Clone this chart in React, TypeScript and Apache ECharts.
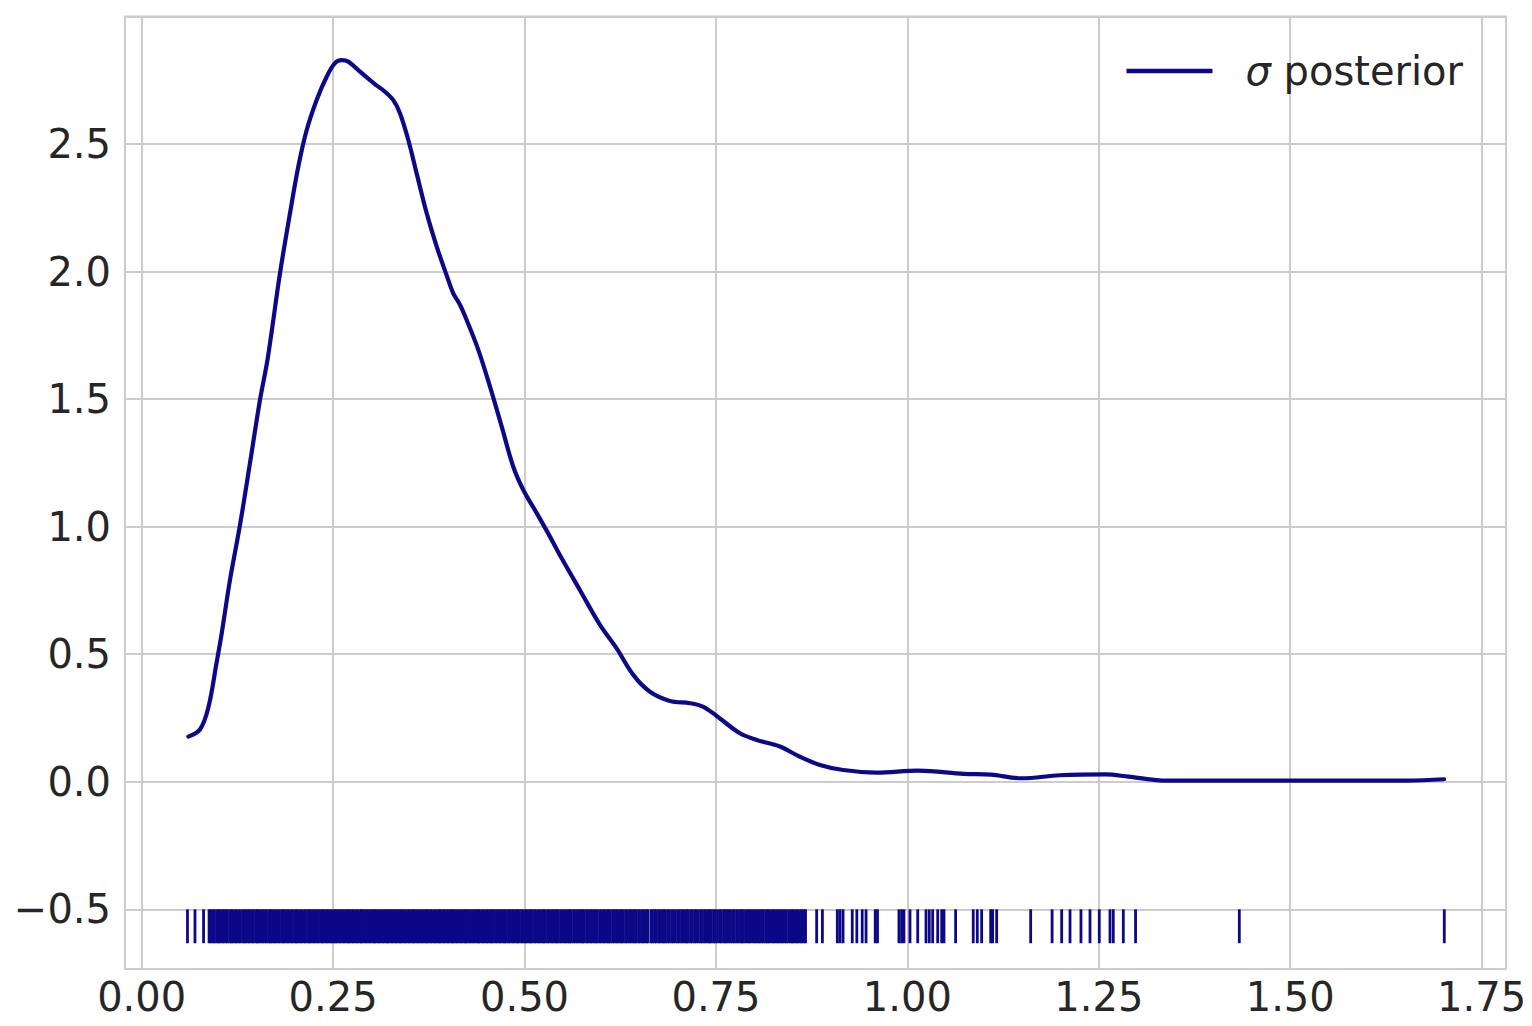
import React, { useEffect, useRef } from 'react';
import * as echarts from 'echarts';

const SERIES_NAME = 'σ posterior';

const KDE_X = [
  0.0609, 0.0761, 0.087, 0.098, 0.1045, 0.1153, 0.1284, 0.1414, 0.1545, 0.1646,
  0.1806, 0.1937, 0.2045, 0.2155, 0.2285, 0.2416, 0.2524, 0.2612, 0.2698, 0.2851,
  0.3025, 0.3177, 0.3286, 0.3373, 0.3482, 0.3591, 0.3722, 0.3853, 0.3983, 0.4069,
  0.4157, 0.4244, 0.4396, 0.4549, 0.4702, 0.4853, 0.4984, 0.5159, 0.5332, 0.5485,
  0.5726, 0.5985, 0.6203, 0.642, 0.6638, 0.6899, 0.7161, 0.7334, 0.7509, 0.7813,
  0.8032, 0.8336, 0.8597, 0.8858, 0.9163, 0.9599, 1.0142, 1.074, 1.109, 1.149,
  1.199, 1.259, 1.289, 1.339, 1.464, 1.654, 1.701,
];
const KDE_Y = [
  0.177, 0.205, 0.29, 0.47, 0.582, 0.791, 1.007, 1.249, 1.497, 1.66,
  1.993, 2.229, 2.411, 2.555, 2.673, 2.764, 2.817, 2.829, 2.823, 2.784,
  2.74, 2.705, 2.672, 2.621, 2.516, 2.385, 2.229, 2.098, 1.985, 1.915,
  1.87, 1.81, 1.693, 1.549, 1.392, 1.235, 1.144, 1.053, 0.961, 0.876,
  0.75, 0.615, 0.523, 0.419, 0.353, 0.317, 0.308, 0.294, 0.258, 0.19,
  0.164, 0.138, 0.098, 0.066, 0.046, 0.036, 0.0435, 0.031, 0.028, 0.0137,
  0.0255, 0.029, 0.02, 0.0043, 0.0043, 0.0043, 0.0098,
];

const RUG = [
  0.0598, 0.0696, 0.0808,
  0.088, 0.090, 0.093, 0.095, 0.098, 0.100, 0.102, 0.105, 0.107, 0.110,
  0.112, 0.115, 0.117, 0.119, 0.122, 0.124, 0.127, 0.129, 0.132, 0.134,
  0.136, 0.139, 0.141, 0.144, 0.146, 0.149, 0.151, 0.153, 0.156, 0.158,
  0.161, 0.163, 0.166, 0.168, 0.170, 0.173, 0.175, 0.178, 0.180, 0.183,
  0.185, 0.187, 0.190, 0.192, 0.195, 0.197, 0.200, 0.202, 0.204, 0.207,
  0.209, 0.212, 0.214, 0.217, 0.219, 0.221, 0.224, 0.226, 0.229, 0.231,
  0.234, 0.236, 0.238, 0.241, 0.243, 0.246, 0.248, 0.251, 0.253, 0.255,
  0.258, 0.260, 0.263, 0.265, 0.268, 0.270, 0.272, 0.275, 0.277, 0.280,
  0.282, 0.285, 0.287, 0.289, 0.292, 0.294, 0.297, 0.299, 0.302, 0.304,
  0.306, 0.309, 0.311, 0.314, 0.316, 0.319, 0.321, 0.323, 0.326, 0.328,
  0.331, 0.333, 0.336, 0.338, 0.340, 0.343, 0.345, 0.348, 0.350, 0.353,
  0.355, 0.357, 0.360, 0.362, 0.365, 0.367, 0.370, 0.372, 0.374, 0.377,
  0.379, 0.382, 0.384, 0.387, 0.389, 0.391, 0.394, 0.396, 0.399, 0.401,
  0.404, 0.406, 0.408, 0.411, 0.413, 0.416, 0.418, 0.421, 0.423, 0.425,
  0.428, 0.430, 0.433, 0.435, 0.438, 0.440, 0.442, 0.445, 0.447, 0.450,
  0.452, 0.455, 0.457, 0.459, 0.462, 0.464, 0.467, 0.469, 0.472, 0.474,
  0.476, 0.479, 0.481, 0.484, 0.486, 0.489, 0.491, 0.493, 0.496, 0.498,
  0.501, 0.503, 0.506, 0.508, 0.510, 0.513, 0.515, 0.518, 0.520, 0.523,
  0.525, 0.527, 0.530, 0.532, 0.535, 0.537, 0.540, 0.542, 0.544, 0.547,
  0.549, 0.552, 0.554, 0.557, 0.559, 0.561, 0.564, 0.566, 0.569, 0.571,
  0.574, 0.576, 0.578, 0.581, 0.583, 0.586, 0.588, 0.591, 0.593, 0.595,
  0.598, 0.600, 0.603, 0.605, 0.608, 0.610, 0.612, 0.615, 0.617, 0.620,
  0.622, 0.625, 0.627, 0.629, 0.632, 0.634, 0.637, 0.639, 0.642, 0.644,
  0.646, 0.649, 0.651, 0.654, 0.656, 0.659, 0.661,
  0.665, 0.667, 0.670, 0.672, 0.675, 0.677, 0.680, 0.682, 0.684, 0.687,
  0.689, 0.692, 0.694, 0.697, 0.700, 0.702, 0.705, 0.707, 0.710, 0.712,
  0.714, 0.717, 0.719, 0.722, 0.724, 0.727, 0.730, 0.732, 0.735, 0.737,
  0.740, 0.742, 0.744, 0.747, 0.749, 0.752, 0.755, 0.757, 0.760, 0.762,
  0.764, 0.767, 0.769, 0.772, 0.774, 0.777, 0.779, 0.782, 0.784, 0.786,
  0.789, 0.792, 0.794, 0.797, 0.800, 0.802, 0.805, 0.807, 0.810, 0.812,
  0.815, 0.817, 0.819, 0.822, 0.825, 0.827, 0.830, 0.832, 0.835, 0.837,
  0.840, 0.842, 0.845, 0.848, 0.850, 0.852, 0.855, 0.857, 0.860, 0.862,
  0.865, 0.867,
  0.8815, 0.889, 0.9085, 0.912, 0.916, 0.928, 0.934, 0.941, 0.946, 0.958,
  0.961, 0.989, 0.9925, 0.9955, 1.0034, 1.0135, 1.0243, 1.0286, 1.033, 1.0396,
  1.0448, 1.0478, 1.063, 1.086, 1.0913, 1.097, 1.1088, 1.1114, 1.1166, 1.161,
  1.189, 1.2015, 1.2124, 1.2267, 1.2385, 1.2506, 1.2646, 1.2689, 1.282, 1.298,
  1.4335, 1.7012,
];

const X_TICKS = [0, 0.25, 0.5, 0.75, 1.0, 1.25, 1.5, 1.75];
const Y_TICKS = [-0.5, 0, 0.5, 1.0, 1.5, 2.0, 2.5];

const RUG_TOP = -0.5;
const RUG_BOTTOM = -0.633;

const LINE_COLOR = '#0d0887';
const TEXT_COLOR = '#262626';
const GRID_COLOR = '#cccccc';
const FONT = 'DejaVu Sans';

const isTick = (v: number, ticks: number[]) => ticks.some((t) => Math.abs(t - v) < 1e-6);
const fmtNum = (v: number, d: number) => (v < -1e-9 ? '\u2212' + Math.abs(v).toFixed(d) : Math.abs(v).toFixed(d));

export default function App() {
  const ref = useRef<HTMLDivElement>(null);
  useEffect(() => {
    if (!ref.current) return;
    const chart = echarts.init(ref.current, null, { renderer: 'svg' });
    chart.setOption({
      animation: false,
      backgroundColor: '#ffffff',
      grid: {
        left: 125,
        right: 26,
        top: 16.5,
        bottom: 57,
        show: true,
        borderColor: GRID_COLOR,
        borderWidth: 2,
        backgroundColor: 'transparent',
      },
      legend: {
        data: [SERIES_NAME],
        right: 69,
        top: 51,
        padding: 0,
        icon: 'rect',
        itemWidth: 86,
        itemHeight: 4.5,
        itemStyle: { color: LINE_COLOR },
        formatter: () => '{g|}{s|σ} posterior',
        textStyle: {
          fontSize: 40,
          color: TEXT_COLOR,
          fontFamily: FONT,
          rich: {
            g: { width: 28 },
            s: { fontStyle: 'italic', fontSize: 40, color: TEXT_COLOR, fontFamily: FONT },
          },
        },
      },
      xAxis: {
        type: 'value',
        min: -0.0218,
        max: 1.7818,
        minInterval: 0.25,
        maxInterval: 0.25,
        axisLine: { show: false },
        axisTick: { show: false },
        splitLine: { show: true, lineStyle: { color: GRID_COLOR, width: 2 } },
        axisLabel: {
          showMinLabel: false,
          showMaxLabel: false,
          color: TEXT_COLOR,
          fontSize: 40,
          fontFamily: FONT,
          margin: 8,
          formatter: (v: number) => (isTick(v, X_TICKS) ? fmtNum(v, 2) : ''),
        },
      },
      yAxis: {
        type: 'value',
        min: -0.734,
        max: 3.0,
        minInterval: 0.5,
        maxInterval: 0.5,
        axisLine: { show: false },
        axisTick: { show: false },
        splitLine: { show: true, lineStyle: { color: GRID_COLOR, width: 2 } },
        axisLabel: {
          showMinLabel: false,
          showMaxLabel: false,
          color: TEXT_COLOR,
          fontSize: 40,
          fontFamily: FONT,
          margin: 14,
          formatter: (v: number) => (isTick(v, Y_TICKS) ? fmtNum(v, 1) : ''),
        },
      },
      series: [
        {
          name: SERIES_NAME,
          type: 'line',
          data: KDE_X.map((x, i) => [x, KDE_Y[i]]),
          symbol: 'none',
          showSymbol: false,
          smooth: 0.35,
          lineStyle: { color: LINE_COLOR, width: 4.2, cap: 'round', join: 'round' },
          itemStyle: { color: LINE_COLOR },
          z: 3,
        },
        {
          name: 'rug',
          type: 'custom',
          data: RUG.map((v) => [v, RUG_TOP]),
          encode: { x: 0, y: 1 },
          renderItem: (params: any, api: any) => {
            const x = api.value(0);
            const p1 = api.coord([x, RUG_TOP]);
            const p2 = api.coord([x, RUG_BOTTOM]);
            return {
              type: 'line',
              shape: { x1: p1[0], y1: p1[1], x2: p2[0], y2: p2[1] },
              style: { stroke: LINE_COLOR, lineWidth: 2.8 },
            };
          },
          z: 3,
        },
      ],
    });
    return () => chart.dispose();
  }, []);
  return (
    <div
      ref={ref}
      style={{ position: 'absolute', left: 0, top: 0, width: 1532, height: 1026 }}
    />
  );
}
